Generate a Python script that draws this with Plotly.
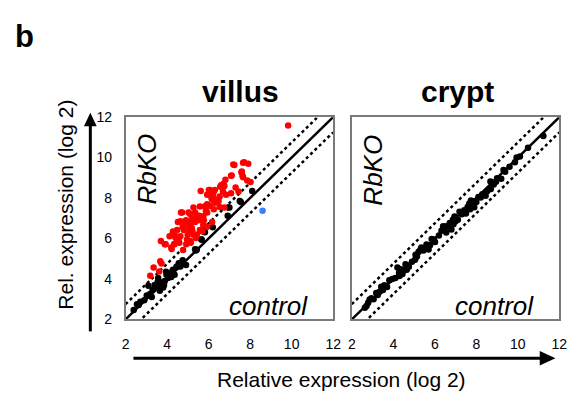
import plotly.graph_objects as go

# page body has an 8px default margin: figure is sized so the page fits 584x402
OFF = 8
W, H = 584 - OFF, 402 - 2 * OFF

# ---------------- data ----------------
tick_vals = [2, 4, 6, 8, 10, 12]
axis_range = [2, 12]
fold_offset = 0.75  # dotted guide lines (log2 units)
diag_x = [2, 12]

villus_red_x = [9.83, 7.24, 7.71, 7.91, 7.60, 7.63, 7.86, 8.02, 7.08, 6.81, 6.60, 6.76, 6.30, 6.06,
                5.62, 5.93, 6.21, 7.30, 7.44, 7.08, 6.69, 6.84, 6.53, 6.14, 6.37, 6.30, 6.53, 6.76,
                5.93, 6.06, 5.82, 5.58, 5.27, 5.03, 4.72, 4.64, 4.88, 5.11, 5.35, 5.43, 5.19, 5.35,
                5.58, 5.74, 5.87, 5.03, 5.19, 4.80, 4.48, 4.64, 4.99, 5.11, 5.27, 4.25, 4.41, 4.56,
                4.33, 3.70, 3.93, 4.22, 4.77, 4.92, 5.43, 5.58, 5.74, 3.67, 3.73, 3.35, 3.19, 3.62,
                4.12, 4.28, 4.36, 4.52, 4.59, 4.36, 4.20, 4.52, 4.75, 4.91, 5.14, 5.38, 5.07, 5.22,
                4.96, 5.14, 5.38, 5.77, 5.70, 5.93, 6.17, 3.89, 6.72, 6.56, 6.25, 6.01, 6.09, 6.17,
                5.85, 6.25, 5.54, 5.70, 5.93, 4.67, 5.30, 7.19, 7.66, 7.11, 7.58, 7.66, 6.48]
villus_red_y = [11.59, 9.63, 9.77, 9.69, 9.31, 9.10, 8.87, 8.79, 9.10, 8.90, 8.63, 8.59, 8.40, 8.40,
                8.35, 8.16, 8.16, 8.52, 8.32, 8.24, 8.32, 8.16, 8.08, 8.00, 7.92, 7.77, 7.56, 7.53,
                7.69, 7.61, 7.58, 7.58, 7.53, 7.29, 7.29, 6.85, 6.82, 7.21, 7.29, 7.13, 6.98, 6.82,
                6.90, 7.10, 7.37, 6.66, 6.50, 6.42, 6.42, 6.11, 6.19, 5.87, 6.19, 6.19, 6.03, 5.92,
                5.71, 5.87, 5.71, 5.48, 5.43, 5.71, 6.19, 6.42, 6.66, 4.88, 4.76, 4.56, 4.16, 4.37,
                6.11, 6.34, 6.19, 6.03, 5.79, 5.71, 5.55, 6.82, 6.58, 6.90, 6.74, 6.90, 6.42, 6.34,
                5.95, 5.79, 6.03, 6.90, 6.34, 6.58, 6.82, 5.71, 8.71, 8.56, 8.32, 8.40, 8.16, 7.92,
                7.61, 7.45, 7.13, 7.05, 7.29, 7.29, 6.98, 9.66, 9.74, 9.11, 9.27, 9.03, 7.85]

villus_black_x = [8.10, 7.55, 7.00, 6.92, 6.95, 7.50, 5.82, 5.66, 5.35, 5.43, 5.65, 5.38, 4.91, 4.67,
                  4.52, 4.75, 4.56, 4.64, 3.97, 4.04, 3.89, 3.73, 3.57, 3.49, 3.65, 3.81, 3.10, 3.18,
                  3.02, 3.26, 2.71, 2.63, 2.39, 4.12, 4.28, 4.36, 3.40, 3.55, 3.85, 4.45, 6.20, 2.90,
                  3.30, 3.60, 3.95, 4.20, 2.55]
villus_black_y = [8.35, 7.80, 7.53, 7.13, 7.53, 7.85, 6.31, 5.95, 5.47, 5.44, 5.95, 5.40, 4.69, 4.76,
                  4.61, 4.92, 4.77, 4.61, 4.21, 4.05, 3.90, 3.82, 4.05, 3.58, 3.42, 3.58, 3.66, 3.26,
                  3.18, 3.11, 2.87, 2.71, 2.47, 4.29, 4.45, 4.21, 3.70, 3.85, 3.70, 4.60, 6.55, 2.95,
                  3.45, 3.75, 4.35, 4.10, 2.75]

villus_blue_x = [8.60]
villus_blue_y = [7.37]

crypt_x = [11.23, 10.49, 9.94, 9.86, 9.31, 9.39, 9.00, 8.68, 8.84, 8.29, 8.21, 8.45, 8.53, 7.74,
           7.82, 7.58, 7.66, 7.42, 7.50, 7.19, 6.95, 7.11, 6.87, 6.72, 6.56, 6.48, 6.32, 6.40,
           5.85, 6.01, 5.77, 5.30, 5.22, 5.14, 5.07, 4.59, 4.36, 4.28, 4.44, 4.20, 3.81, 3.57,
           3.42, 3.34, 3.18, 2.86, 2.79, 2.71, 2.63, 10.10, 9.60, 8.95, 8.10, 7.95, 7.30, 7.00,
           6.65, 6.20, 5.95, 5.45, 5.35, 4.90, 4.75, 4.50, 4.10, 3.95, 3.70, 3.25, 3.05, 2.95,
           6.80, 7.90, 8.70, 5.60, 4.65, 8.00, 7.70, 6.90, 6.55, 5.70, 5.05, 4.30, 3.50, 9.20]
crypt_y = [11.07, 10.48, 10.00, 9.77, 9.38, 9.30, 8.98, 8.82, 8.67, 8.19, 8.03, 8.11, 8.35, 7.88,
           7.72, 7.56, 7.72, 7.40, 7.24, 7.32, 7.09, 6.93, 6.93, 6.77, 6.61, 6.53, 6.38, 6.61,
           5.98, 5.82, 5.67, 5.43, 5.35, 5.11, 5.19, 4.72, 4.48, 4.32, 4.24, 4.56, 3.93, 3.69,
           3.61, 3.37, 3.30, 2.98, 2.82, 2.66, 2.58, 10.05, 9.55, 8.80, 8.05, 7.85, 7.20, 6.85,
           6.60, 6.15, 5.95, 5.40, 5.55, 4.85, 4.60, 4.40, 4.05, 4.00, 3.60, 3.20, 3.00, 3.05,
           6.45, 7.55, 8.45, 5.70, 4.45, 7.80, 7.45, 6.70, 6.30, 5.45, 4.95, 4.15, 3.45, 8.95]

# ---------------- figure ----------------
fig = go.Figure()

def guides(xa, ya):
    fig.add_trace(go.Scatter(x=diag_x, y=diag_x, mode="lines", xaxis=xa, yaxis=ya,
                             line=dict(color="black", width=2.5), hoverinfo="skip"))
    fig.add_trace(go.Scatter(x=diag_x, y=[v + fold_offset for v in diag_x], mode="lines",
                             xaxis=xa, yaxis=ya, line=dict(color="black", width=2.5, dash="dot"),
                             hoverinfo="skip"))
    fig.add_trace(go.Scatter(x=diag_x, y=[v - fold_offset for v in diag_x], mode="lines",
                             xaxis=xa, yaxis=ya, line=dict(color="black", width=2.5, dash="dot"),
                             hoverinfo="skip"))

guides("x", "y")
guides("x2", "y2")

mk = dict(size=6.5, line=dict(width=0))
fig.add_trace(go.Scatter(x=villus_black_x, y=villus_black_y, mode="markers", xaxis="x", yaxis="y",
                         marker=dict(color="black", **mk)))
fig.add_trace(go.Scatter(x=villus_red_x, y=villus_red_y, mode="markers", xaxis="x", yaxis="y",
                         marker=dict(color="#ff0000", **mk)))
fig.add_trace(go.Scatter(x=villus_blue_x, y=villus_blue_y, mode="markers", xaxis="x", yaxis="y",
                         marker=dict(color="#3d7dff", **mk)))
fig.add_trace(go.Scatter(x=crypt_x, y=crypt_y, mode="markers", xaxis="x2", yaxis="y2",
                         marker=dict(color="black", **mk)))

FONT = "Liberation Sans, Arial, sans-serif"


def X(p):
    return (p - OFF) / W


def Y(p):
    return 1 - (p - OFF) / H


ydom = [Y(324.5), Y(113.5)]
axis_common = dict(range=axis_range, showgrid=False, zeroline=False, showline=True, mirror=True,
                   linecolor="#7a7a7a", linewidth=1.5, ticks="", tickvals=tick_vals,
                   tickfont=dict(size=14, color="black", family=FONT))

fig.update_layout(
    width=W, height=H, margin=dict(l=0, r=0, t=0, b=0),
    paper_bgcolor="white", plot_bgcolor="white", showlegend=False,
    font=dict(family=FONT, color="black"),
    xaxis=dict(domain=[X(124), X(336)], anchor="y", ticklabelstandoff=11, **axis_common),
    yaxis=dict(domain=ydom, anchor="x", ticklabelstandoff=9, **axis_common),
    xaxis2=dict(domain=[X(355), X(567)], anchor="y2", ticklabelstandoff=11, **axis_common),
    yaxis2=dict(domain=ydom, anchor="x2", showticklabels=False, **axis_common),
)

ann = [
    dict(text="<b>b</b>", x=X(21), y=Y(9), yanchor="top", font=dict(size=31)),
    dict(text="<b>villus</b>", x=X(241), y=Y(87), font=dict(size=30)),
    dict(text="<b>crypt</b>", x=X(463), y=Y(87), font=dict(size=30)),
    dict(text="<i>RbKO</i>", x=X(146), y=Y(168), textangle=-90, font=dict(size=26)),
    dict(text="<i>RbKO</i>", x=X(377), y=Y(169), textangle=-90, font=dict(size=26)),
    dict(text="<i>control</i>", x=X(270), y=Y(311), font=dict(size=26)),
    dict(text="<i>control</i>", x=X(501), y=Y(311), font=dict(size=26)),
    dict(text="Rel. expression (log 2)", x=X(63), y=Y(205), textangle=-90, font=dict(size=21)),
    dict(text="Relative expression (log 2)", x=X(345), y=Y(387), font=dict(size=21)),
]
for a in ann:
    a.update(xref="paper", yref="paper", showarrow=False, xanchor="center")
    a.setdefault("yanchor", "middle")
    a["font"].update(color="black", family=FONT)
fig.update_layout(annotations=ann)

shapes = [
    # vertical arrow
    dict(type="line", x0=X(88), x1=X(88), y0=Y(337), y1=Y(120), line=dict(color="black", width=3)),
    dict(type="path", path=f"M {X(88)} {Y(109)} L {X(81.5)} {Y(123)} L {X(94.5)} {Y(123)} Z",
         fillcolor="black", line=dict(width=0)),
    # horizontal arrow
    dict(type="line", x0=X(132), x1=X(550), y0=Y(365), y1=Y(365), line=dict(color="black", width=3)),
    dict(type="path", path=f"M {X(563)} {Y(365)} L {X(547)} {Y(357.5)} L {X(547)} {Y(372.5)} Z",
         fillcolor="black", line=dict(width=0)),
]
for s in shapes:
    s.update(xref="paper", yref="paper")
fig.update_layout(shapes=shapes)

fig.write_html("out.html")
